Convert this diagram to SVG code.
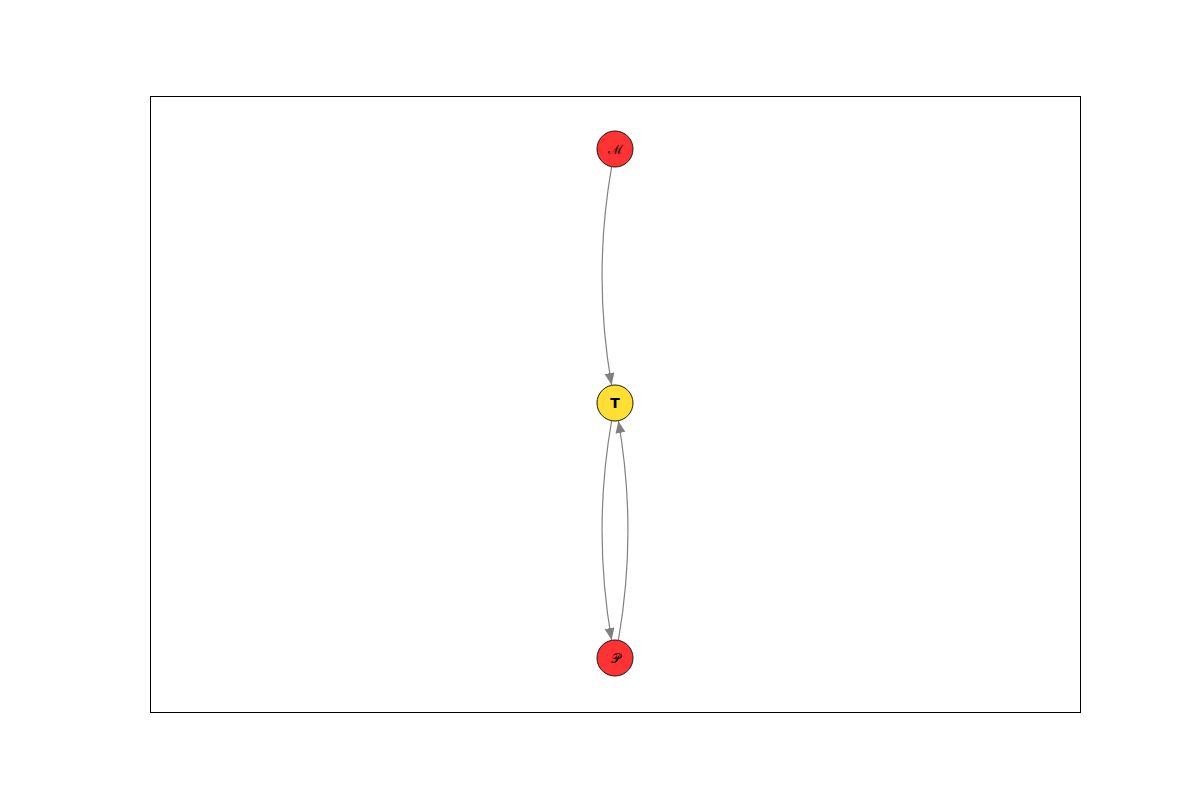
<svg xmlns="http://www.w3.org/2000/svg" width="1200" height="800" viewBox="0 0 1200 800">
<style>
.edge{fill:none;stroke:#808080;stroke-width:1.2;marker-end:url(#ah)}
.node{stroke:#1a1a1a;stroke-width:1}
.red{fill:#ff3333}
.yel{fill:#ffdf33}
.lbl{font-family:"DejaVu Serif","Liberation Serif",serif;font-size:13px;text-anchor:middle;fill:#000}
.bold{font-family:"DejaVu Sans","Liberation Sans",sans-serif;font-size:14px;font-weight:bold;text-anchor:middle;fill:#000}
</style>
<defs>
<marker id="ah" markerWidth="13" markerHeight="11" refX="12" refY="5" orient="auto" markerUnits="userSpaceOnUse">
<path d="M0,0 L12,5 L0,10 Z" fill="#808080"/>
</marker>
</defs>
<rect x="150.5" y="96.5" width="930" height="616" fill="none" stroke="#000" stroke-width="1"/>
<g id="edges">
<path class="edge" d="M611.6,167 Q592.5,276 611.6,385"/>
<path class="edge" d="M611.6,421 Q592.5,530.5 611.6,640"/>
<path class="edge" d="M618.4,640 Q637.5,530.5 618.4,421"/>
</g>
<g id="node-M">
<circle class="node red" cx="615" cy="149" r="18"/>
<text class="lbl" x="615" y="154">ℳ</text>
</g>
<g id="node-T">
<circle class="node yel" cx="615" cy="403" r="18"/>
<text class="bold" x="615" y="408">T</text>
</g>
<g id="node-P">
<circle class="node red" cx="615" cy="658" r="18"/>
<text class="lbl" x="615" y="663">𝒫</text>
</g>
</svg>
